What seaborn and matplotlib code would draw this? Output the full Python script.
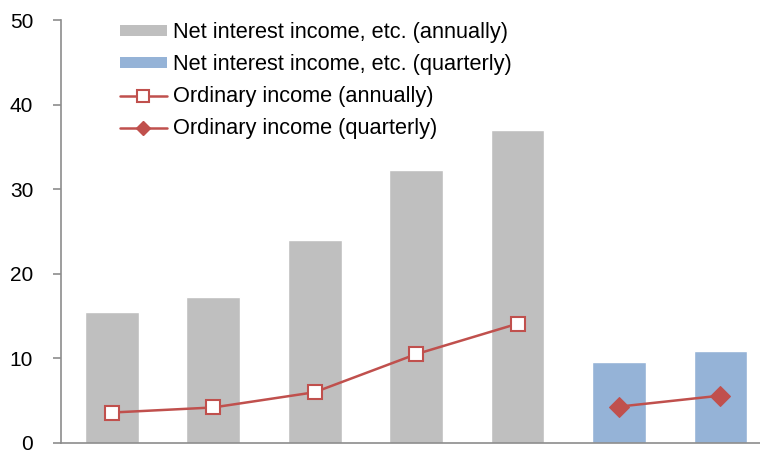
import numpy as np
import pandas as pd
import matplotlib
matplotlib.use("Agg")
import matplotlib.pyplot as plt
import seaborn as sns
from matplotlib.patches import Patch
from matplotlib.lines import Line2D

# -----------------------------
# Data
# -----------------------------
periods = ["A1", "A2", "A3", "A4", "A5", "Q1", "Q2"]
freq = ["annually"] * 5 + ["quarterly"] * 2
net_interest = [15.5, 17.3, 24.0, 32.3, 37.0, 9.6, 10.9]
ordinary_annual = [3.6, 4.2, 6.0, 10.5, 14.1]
ordinary_quarterly = [4.3, 5.6]

grey = "#BFBFBF"
blue = "#95B3D7"
red = "#C0504D"
axis_grey = "#8C8C8C"

df = pd.DataFrame({"period": periods, "freq": freq, "value": net_interest})
df["pos"] = np.arange(len(df))

sns.set_theme(style="white")
plt.rcParams["font.family"] = ["Liberation Sans", "DejaVu Sans"]
plt.rcParams["text.color"] = "black"

fig = plt.figure(figsize=(7.6, 4.51), dpi=100)
ax = fig.add_axes([61 / 760, 8 / 451, 1 - 61 / 760, 423 / 451])

# Bars
sns.barplot(data=df, x="period", y="value", hue="freq",
            palette={"annually": grey, "quarterly": blue},
            dodge=False, width=0.53, saturation=1, legend=False, ax=ax)

# Lines
ann = df[df["freq"] == "annually"].assign(oi=ordinary_annual)
qtr = df[df["freq"] == "quarterly"].assign(oi=ordinary_quarterly)
sns.lineplot(x=ann["pos"].values, y=ann["oi"].values, ax=ax, color=red, lw=1.8,
             marker="s", markersize=10, markerfacecolor="white",
             markeredgecolor=red, markeredgewidth=1.5)
sns.lineplot(x=qtr["pos"].values, y=qtr["oi"].values, ax=ax, color=red, lw=1.8,
             marker="D", markersize=10, markerfacecolor=red,
             markeredgecolor=red)

# Axes styling
ax.set_xlim(-0.5, 6.39)
ax.set_ylim(0, 50)
ax.set_yticks(range(0, 51, 10))
ax.set_xticks([])
ax.set_xlabel("")
ax.set_ylabel("")
for s in ["top", "right"]:
    ax.spines[s].set_visible(False)
for s in ["left", "bottom"]:
    ax.spines[s].set_color(axis_grey)
    ax.spines[s].set_linewidth(1.2)
ax.tick_params(axis="y", direction="out", length=6, width=1.2, color=axis_grey,
               labelsize=15, labelcolor="black", left=True, pad=14)
ax.grid(False)

# Legend
handles = [
    Patch(facecolor=grey, edgecolor="none"),
    Patch(facecolor=blue, edgecolor="none"),
    Line2D([], [], color=red, lw=1.8, marker="s", markersize=8,
           markerfacecolor="white", markeredgecolor=red, markeredgewidth=1.5),
    Line2D([], [], color=red, lw=1.8, marker="D", markersize=7,
           markerfacecolor=red, markeredgecolor=red),
]
labels = [
    "Net interest income, etc. (annually)",
    "Net interest income, etc. (quarterly)",
    "Ordinary income (annually)",
    "Ordinary income (quarterly)",
]
leg = ax.legend(handles, labels, loc="upper left", bbox_to_anchor=(0.0715, 1.015),
                frameon=False, fontsize=15.7, handlelength=2.15, handleheight=0.37,
                handletextpad=0.28, labelspacing=0.5, borderaxespad=0)
for t in leg.get_texts():
    t.set_color("black")

fig.savefig("out.png", dpi=100)
